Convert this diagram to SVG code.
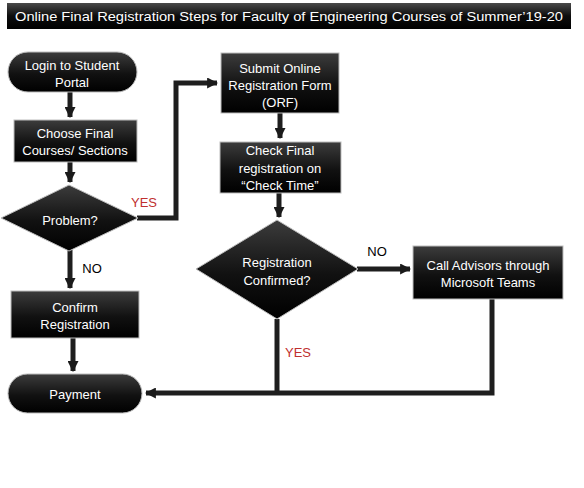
<svg xmlns="http://www.w3.org/2000/svg" width="584" height="488" viewBox="0 0 584 488">
<defs>
<linearGradient id="g" x1="0" y1="0" x2="0" y2="1">
<stop offset="0" stop-color="#3c3c3c"/>
<stop offset="0.55" stop-color="#111"/>
<stop offset="1" stop-color="#000"/>
</linearGradient>
<linearGradient id="tg" x1="0" y1="0" x2="0" y2="1">
<stop offset="0" stop-color="#4a4a4a"/>
<stop offset="0.5" stop-color="#0d0d0d"/>
<stop offset="1" stop-color="#000"/>
</linearGradient>
<marker id="ah" viewBox="0 0 10 10" refX="9" refY="5" markerWidth="2.2" markerHeight="2.2" orient="auto" markerUnits="strokeWidth">
<path d="M0,0 L10,5 L0,10 z" fill="#1a1a1a"/>
</marker>
<style>
.n{fill:url(#g);stroke:#bdbdbd;stroke-width:1}
.t{font-family:"Liberation Sans",Arial,sans-serif;font-size:13px;fill:#fff;text-anchor:middle}
.c{fill:none;stroke:#1e1e1e;stroke-width:5}
.lb{font-family:"Liberation Sans",Arial,sans-serif;font-size:13px;fill:#000;text-anchor:middle}
.red{fill:#c0302f}
</style>
</defs>
<rect width="584" height="488" fill="#fff"/>
<g id="title">
<rect x="7" y="3" width="564" height="26" fill="url(#tg)"/>
<text class="t" x="289" y="21" font-size="14" textLength="548" lengthAdjust="spacingAndGlyphs">Online Final Registration Steps for Faculty of Engineering Courses of Summer’19-20</text>
</g>
<g id="connectors">
<path class="c" d="M70,92 V117" marker-end="url(#ah)"/>
<path class="c" d="M70,162 V182" marker-end="url(#ah)"/>
<path class="c" d="M137,218 H176 V83 H217" stroke-linejoin="miter" marker-end="url(#ah)"/>
<path class="c" d="M70,250 V288" marker-end="url(#ah)"/>
<path class="c" d="M73,338 V371" marker-end="url(#ah)"/>
<path class="c" d="M280,113 V138" marker-end="url(#ah)"/>
<path class="c" d="M279,193 V217" marker-end="url(#ah)"/>
<path class="c" d="M357,269 H410" marker-end="url(#ah)"/>
<path class="c" d="M277,319 V393"/>
<path class="c" d="M492,299 V393 H146" stroke-linejoin="miter" marker-end="url(#ah)"/>
</g>
<g id="login">
<rect class="n" x="8" y="52" width="129" height="40" rx="20"/>
<text class="t" x="72" y="70">Login to Student</text>
<text class="t" x="72" y="87">Portal</text>
</g>
<g id="choose">
<rect class="n" x="14" y="120" width="123" height="42"/>
<text class="t" x="75" y="138">Choose Final</text>
<text class="t" x="75" y="155">Courses/ Sections</text>
</g>
<g id="problem">
<polygon class="n" points="69,185 138,218 69,251 1,218"/>
<text class="t" x="70" y="225">Problem?</text>
</g>
<g id="confirm">
<rect class="n" x="11" y="291" width="128" height="47"/>
<text class="t" x="75" y="312">Confirm</text>
<text class="t" x="75" y="329">Registration</text>
</g>
<g id="payment">
<rect class="n" x="8" y="374" width="134" height="39" rx="19.5"/>
<text class="t" x="75" y="399">Payment</text>
</g>
<g id="submit">
<rect class="n" x="221" y="53" width="118" height="60"/>
<text class="t" x="280" y="73">Submit Online</text>
<text class="t" x="280" y="90">Registration Form</text>
<text class="t" x="280" y="107">(ORF)</text>
</g>
<g id="check">
<rect class="n" x="220" y="142" width="121" height="51"/>
<text class="t" x="280" y="155">Check Final</text>
<text class="t" x="280" y="173">registration on</text>
<text class="t" x="280" y="190">“Check Time”</text>
</g>
<g id="regconfirmed">
<polygon class="n" points="277,220 358,269 277,319 196,269"/>
<text class="t" x="277" y="267">Registration</text>
<text class="t" x="277" y="285">Confirmed?</text>
</g>
<g id="call">
<rect class="n" x="413" y="246" width="150" height="53"/>
<text class="t" x="488" y="270">Call Advisors through</text>
<text class="t" x="488" y="287">Microsoft Teams</text>
</g>
<g id="labels">
<text class="lb red" x="144" y="207">YES</text>
<text class="lb" x="92" y="273">NO</text>
<text class="lb" x="377" y="256">NO</text>
<text class="lb red" x="298" y="357">YES</text>
</g>
</svg>
